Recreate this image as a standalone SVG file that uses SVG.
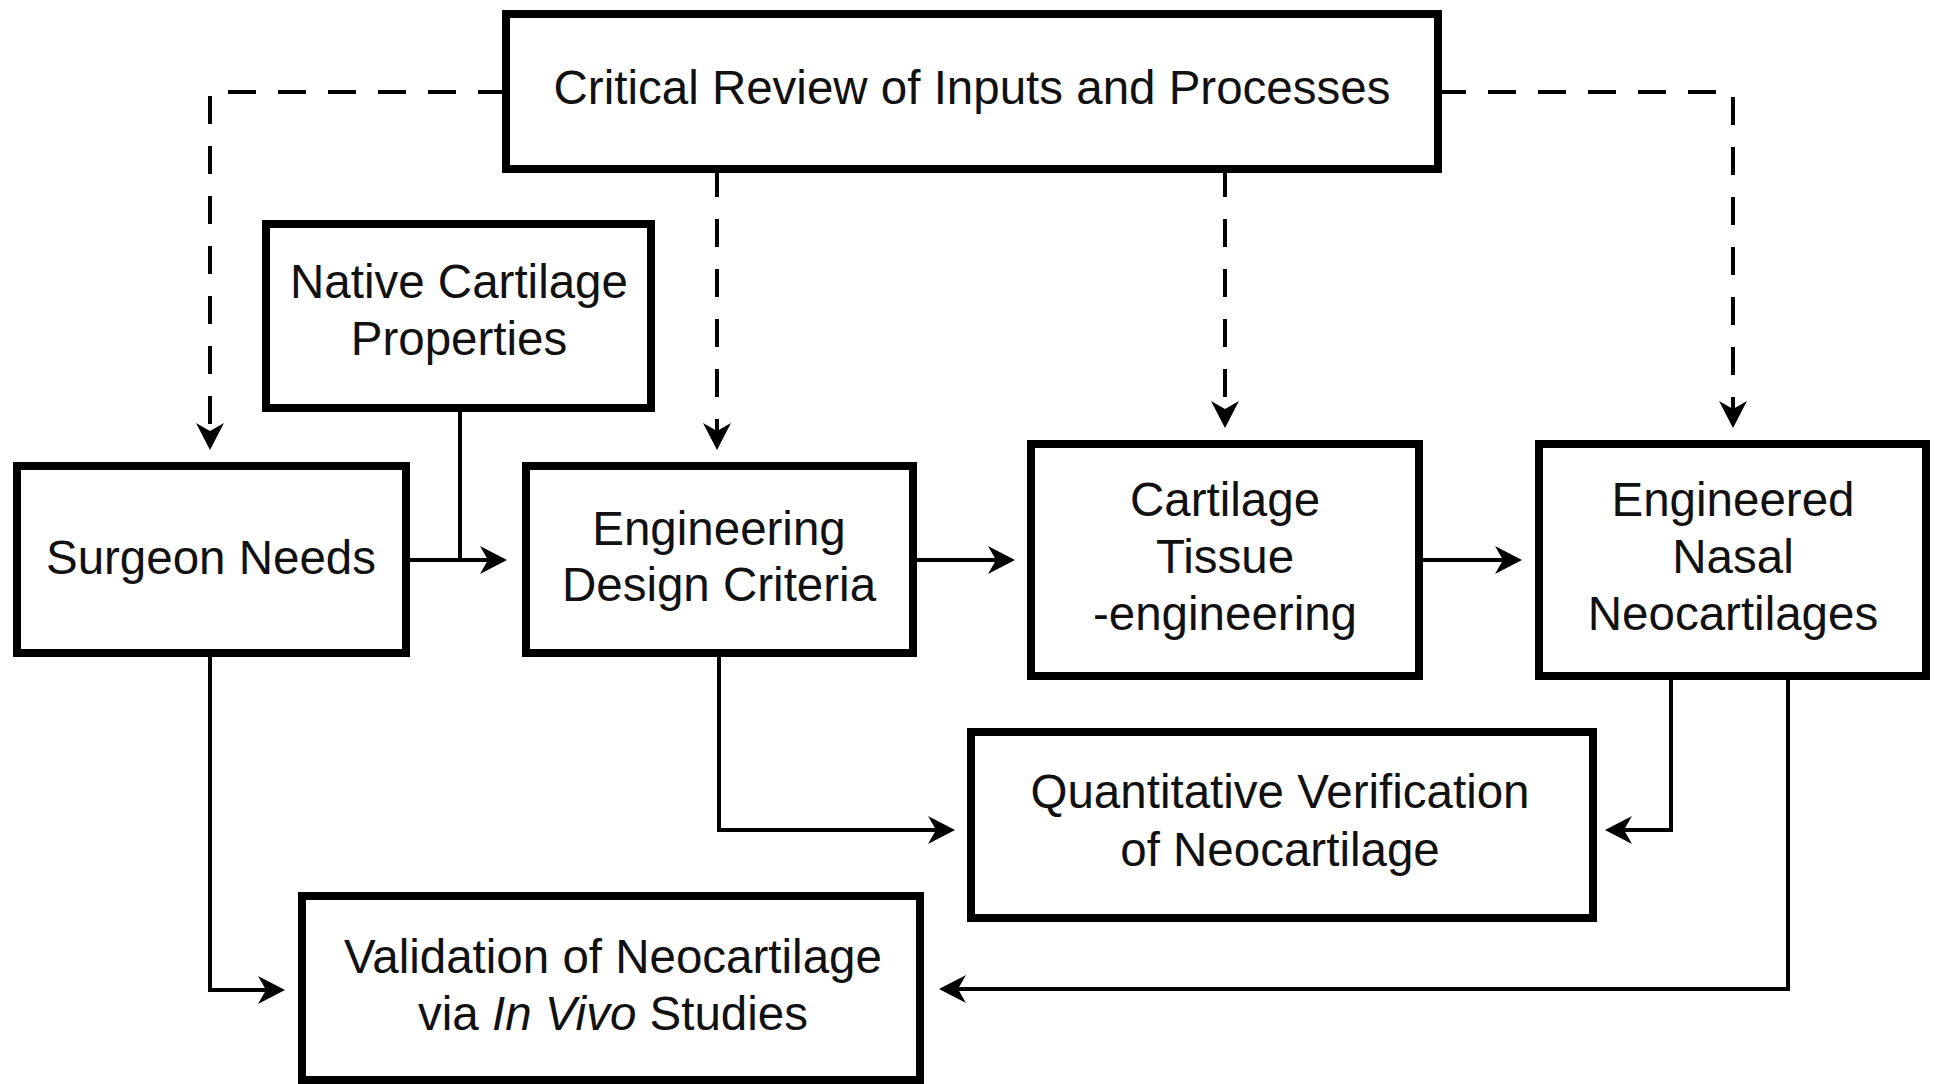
<svg xmlns="http://www.w3.org/2000/svg" width="1937" height="1084" viewBox="0 0 1937 1084">
<style>
.box{fill:#fff;stroke:#000;stroke-width:8}
.t{font-family:"Liberation Sans",Arial,sans-serif;font-size:47.5px;fill:#111;text-anchor:middle}
.c{fill:none;stroke:#000;stroke-width:4}
.d{fill:none;stroke:#000;stroke-width:4;stroke-dasharray:28 22}
</style>
<defs>
<marker id="ah" markerUnits="userSpaceOnUse" markerWidth="32" markerHeight="32" viewBox="-18 -16 32 32" refX="0" refY="0" orient="auto">
<path d="M10,0 L-17,-14 L-9,0 L-17,14 Z" fill="#000"/>
</marker>
</defs>
<rect width="1937" height="1084" fill="#fff"/>
<g id="connectors">
<path class="d" d="M506,92 H210 V440" marker-end="url(#ah)"/>
<path class="d" d="M1438,92 H1733 V418" marker-end="url(#ah)"/>
<path class="d" d="M717,169 V440" marker-end="url(#ah)"/>
<path class="d" d="M1225,169 V418" marker-end="url(#ah)"/>
<path class="c" d="M460,408 V560"/>
<path class="c" d="M406,560 H497" marker-end="url(#ah)"/>
<path class="c" d="M913,560 H1005" marker-end="url(#ah)"/>
<path class="c" d="M1419,560 H1512" marker-end="url(#ah)"/>
<path class="c" d="M719,653 V830 H945" marker-end="url(#ah)"/>
<path class="c" d="M1671,676 V830 H1615" marker-end="url(#ah)"/>
<path class="c" d="M1788,676 V989 H949" marker-end="url(#ah)"/>
<path class="c" d="M210,653 V990 H275" marker-end="url(#ah)"/>
</g>
<g id="critical">
<rect class="box" x="506" y="14" width="932" height="155"/>
<text class="t" x="972" y="104">Critical Review of Inputs and Processes</text>
</g>
<g id="native">
<rect class="box" x="266" y="224" width="385" height="184"/>
<text class="t" x="459" y="298">Native Cartilage</text>
<text class="t" x="459" y="355">Properties</text>
</g>
<g id="surgeon">
<rect class="box" x="17" y="466" width="389" height="187"/>
<text class="t" x="211" y="574">Surgeon Needs</text>
</g>
<g id="design">
<rect class="box" x="526" y="466" width="387" height="187"/>
<text class="t" x="719" y="545">Engineering</text>
<text class="t" x="719" y="601">Design Criteria</text>
</g>
<g id="tissue">
<rect class="box" x="1031" y="444" width="388" height="232"/>
<text class="t" x="1225" y="516">Cartilage</text>
<text class="t" x="1225" y="573">Tissue</text>
<text class="t" x="1225" y="630">-engineering</text>
</g>
<g id="engineered">
<rect class="box" x="1539" y="444" width="387" height="232"/>
<text class="t" x="1733" y="516">Engineered</text>
<text class="t" x="1733" y="573">Nasal</text>
<text class="t" x="1733" y="630">Neocartilages</text>
</g>
<g id="quant">
<rect class="box" x="971" y="732" width="622" height="186"/>
<text class="t" x="1280" y="808">Quantitative Verification</text>
<text class="t" x="1280" y="866">of Neocartilage</text>
</g>
<g id="validation">
<rect class="box" x="302" y="896" width="618" height="184"/>
<text class="t" x="613" y="973">Validation of Neocartilage</text>
<text class="t" x="613" y="1030">via <tspan font-style="italic">In Vivo</tspan> Studies</text>
</g>
</svg>
